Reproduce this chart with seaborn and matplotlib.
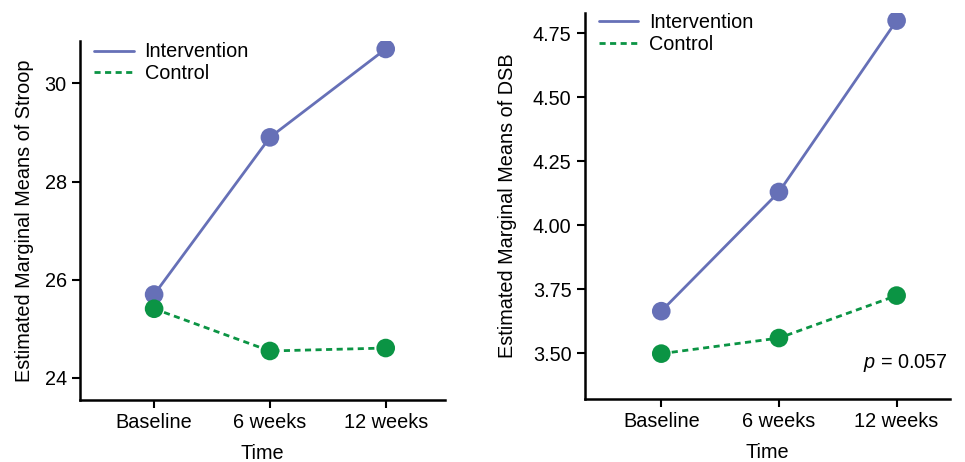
import numpy as np
import pandas as pd
import seaborn as sns
import matplotlib
matplotlib.use("Agg")
import matplotlib.pyplot as plt
from matplotlib.lines import Line2D

# ---- data ----
times = ["Baseline", "6 weeks", "12 weeks"]
groups = ["Intervention", "Control"]
stroop_intervention = [25.70, 28.90, 30.70]
stroop_control = [25.41, 24.55, 24.61]
dsb_intervention = [3.664, 4.13, 4.80]
dsb_control = [3.498, 3.559, 3.725]
stroop_ticks = [24, 26, 28, 30]
dsb_ticks = [3.50, 3.75, 4.00, 4.25, 4.50, 4.75]
p_text = "$p$ = 0.057"

sns.set_theme(style="ticks")
plt.rcParams["font.family"] = ["Liberation Sans", "DejaVu Sans"]
plt.rcParams["mathtext.fontset"] = "custom"
plt.rcParams["mathtext.it"] = "Liberation Sans:italic"
plt.rcParams["mathtext.rm"] = "Liberation Sans"
plt.rcParams["text.color"] = "black"
plt.rcParams["axes.labelcolor"] = "black"
plt.rcParams["xtick.color"] = "black"
plt.rcParams["ytick.color"] = "black"

colors = {"Intervention": "#6670b7", "Control": "#0b9444"}
FS = 14.3
LW = 2.0
DASH = (2.2, 1.6)

def make_df(inter, ctrl):
    return pd.DataFrame({
        "Time": times * 2,
        "Group": ["Intervention"] * 3 + ["Control"] * 3,
        "Value": list(inter) + list(ctrl),
    })

fig = plt.figure(figsize=(9.65, 4.62), dpi=100)
ax1 = fig.add_axes([0.0829, 0.134, 0.378, 0.777])
ax2 = fig.add_axes([0.606, 0.136, 0.378, 0.836])

def draw(ax, df, ylabel, yticks, ylim, xlim, ylabelpad):
    sns.lineplot(data=df, x="Time", y="Value", hue="Group", style="Group",
                 hue_order=groups, style_order=groups, palette=colors,
                 dashes={"Intervention": "", "Control": DASH},
                 linewidth=LW, legend=False, ax=ax, sort=False)
    sns.scatterplot(data=df, x="Time", y="Value", hue="Group", hue_order=groups,
                    palette=colors, s=180, edgecolor="none", legend=False,
                    ax=ax, zorder=3)
    ax.set_xlim(*xlim)
    ax.set_ylim(*ylim)
    ax.set_yticks(yticks)
    if isinstance(yticks[0], float):
        ax.set_yticklabels([f"{t:.2f}" for t in yticks])
    ax.set_xlabel("Time", fontsize=FS, labelpad=8.5)
    ax.set_ylabel(ylabel, fontsize=FS, labelpad=ylabelpad)
    ax.tick_params(axis="both", labelsize=FS, width=1.5, length=6, color="black")
    for s in ["top", "right"]:
        ax.spines[s].set_visible(False)
    for s in ["left", "bottom"]:
        ax.spines[s].set_linewidth(1.8)
        ax.spines[s].set_color("black")
    handles = [Line2D([0], [0], color=colors["Intervention"], lw=LW),
               Line2D([0], [0], color=colors["Control"], lw=LW, dashes=DASH)]
    ax.legend(handles, groups, loc="upper left", frameon=False, fontsize=FS,
              handlelength=2.0, handletextpad=0.55, labelspacing=0.12,
              borderaxespad=0.3, bbox_to_anchor=(0.0, 1.035))

draw(ax1, make_df(stroop_intervention, stroop_control),
     "Estimated Marginal Means of Stroop", stroop_ticks, (23.55, 30.86), (-0.64, 2.51), 8)
draw(ax2, make_df(dsb_intervention, dsb_control),
     "Estimated Marginal Means of DSB", dsb_ticks, (3.32, 4.83), (-0.65, 2.45), 11.5)
ax2.text(0.995, 0.093, p_text, transform=ax2.transAxes, ha="right", va="center",
         fontsize=FS)

fig.savefig("out.png", dpi=100)
